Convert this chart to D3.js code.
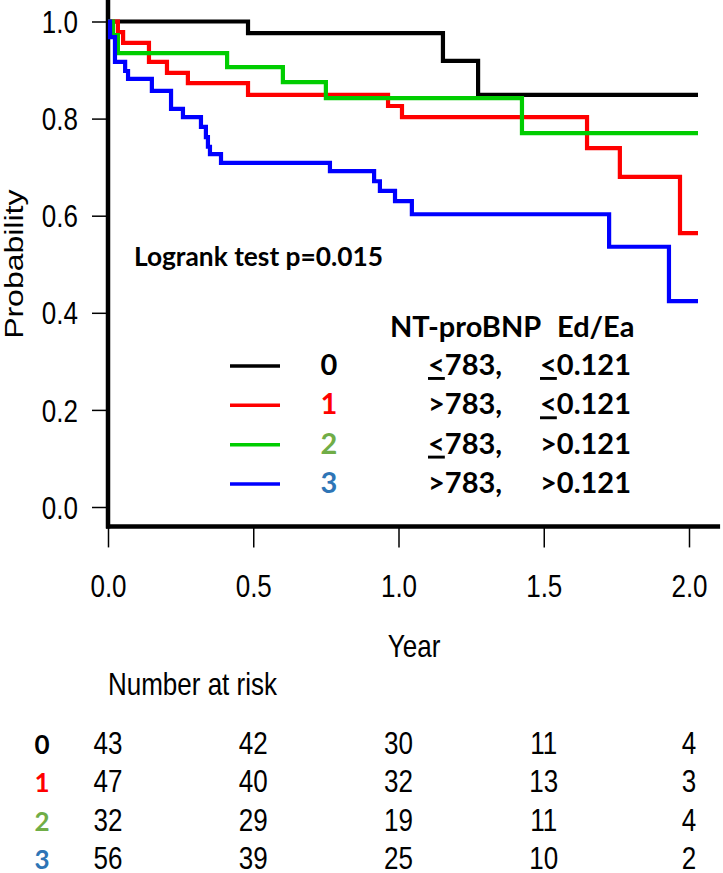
<!DOCTYPE html>
<html>
<head>
<meta charset="utf-8">
<style>
  body { margin: 0; background: #fff; }
  svg { display: block; }
</style>
</head>
<body>
<svg width="723" height="873"></svg>
<script src="https://d3js.org/d3.v7.min.js"></script>
<script>

    // Kaplan-Meier curves for 4 groups, with legend and number-at-risk table

    var groups = ["0", "1", "2", "3"];
    var lineColors = ["#000000", "#ff0000", "#00cd00", "#0000ff"];
    var labelColors = ["#000000", "#ff0000", "#70ad47", "#2e75b6"];

    // step times (years) and survival after each step
    var times0 = [0, 0.482, 1.153, 1.274];
    var surv0 = [1, 0.976, 0.919, 0.849];
    var times1 = [0, 0.034, 0.052, 0.141, 0.203, 0.275, 0.482, 0.964, 1.012, 1.649, 1.762, 1.969];
    var surv1 = [1, 0.978, 0.956, 0.917, 0.894, 0.873, 0.849, 0.826, 0.803, 0.739, 0.680, 0.564];
    var times2 = [0, 0.017, 0.034, 0.410, 0.602, 0.750, 1.425];
    var surv2 = [1, 0.972, 0.935, 0.906, 0.875, 0.842, 0.770];
    var times3 = [0, 0.007, 0.024, 0.059, 0.069, 0.151, 0.217, 0.258, 0.320, 0.337, 0.344, 0.351, 0.389, 0.764, 0.916, 0.936, 0.988, 1.046, 1.725, 1.931];
    var surv3 = [1, 0.968, 0.917, 0.898, 0.882, 0.857, 0.820, 0.803, 0.783, 0.762, 0.742, 0.727, 0.709, 0.692, 0.671, 0.651, 0.630, 0.603, 0.536, 0.424];
    var endTime = 2.031;

    var xTicks = [0, 0.5, 1, 1.5, 2];
    var yTicks = [0, 0.2, 0.4, 0.6, 0.8, 1];

    // legend
    var ntHeader = "NT-proBNP";
    var edHeader = "Ed/Ea";
    var ntLabels = ["≤783,", ">783,", "≤783,", ">783,"];
    var edLabels = ["≤0.121", "≤0.121", ">0.121", ">0.121"];
    var pText = "Logrank test p=0.015";

    // number at risk
    var riskTimes = [0, 0.5, 1, 1.5, 2];
    var risk0 = [43, 42, 30, 11, 4];
    var risk1 = [47, 40, 32, 13, 3];
    var risk2 = [32, 29, 19, 11, 4];
    var risk3 = [56, 39, 25, 10, 2];

    var allTimes = [times0, times1, times2, times3];
    var allSurv = [surv0, surv1, surv2, surv3];
    var allRisk = [risk0, risk1, risk2, risk3];

    var arial = "'Liberation Sans', Arial, sans-serif";
    var calibri = "Lato, 'Open Sans', sans-serif";
    var stretch = 1.23;   // the picture is taller than it is wide

    var svg = d3.select("svg");

    var x = d3.scaleLinear().domain([0, 2]).range([108, 689]);
    var y = d3.scaleLinear().domain([0, 1]).range([507, 21.5]);

    // plot frame (left and bottom only)
    var boxBottom = y(-0.04), boxTop = y(1.04), boxRight = x(2.107);

    // y axis
    var yAxis = svg.append("g")
        .attr("transform", "translate(" + x(0) + ",0)")
        .call(d3.axisLeft(y).tickValues(yTicks).tickSize(16).tickPadding(14).tickFormat(d3.format(".1f")));
    yAxis.select(".domain").remove();
    yAxis.selectAll("line").attr("stroke", "#000").attr("stroke-width", 1.5);
    yAxis.selectAll("text")
        .attr("font-family", arial).attr("font-size", 26).attr("fill", "#000")
        .attr("dy", "0.35em")
        .attr("transform", "scale(1," + stretch + ")");

    // x axis
    var xAxis = svg.append("g")
        .attr("transform", "translate(0," + boxBottom + ")")
        .call(d3.axisBottom(x).tickValues(xTicks).tickSize(21).tickFormat(d3.format(".1f")));
    xAxis.select(".domain").remove();
    xAxis.selectAll("line").attr("stroke", "#000").attr("stroke-width", 1.5);
    xAxis.selectAll("text")
        .attr("font-family", arial).attr("font-size", 26).attr("fill", "#000")
        .attr("y", 71 / stretch).attr("dy", 0)
        .attr("transform", "scale(1," + stretch + ")");

    svg.append("line")
        .attr("x1", x(0)).attr("x2", x(0)).attr("y1", 0).attr("y2", boxBottom + 2)
        .attr("stroke", "#000").attr("stroke-width", 4.5);
    svg.append("line")
        .attr("x1", x(0) - 2).attr("x2", boxRight).attr("y1", boxBottom).attr("y2", boxBottom)
        .attr("stroke", "#000").attr("stroke-width", 4.5);

    // axis titles
    svg.append("text")
        .attr("transform", "translate(23," + ((boxTop + boxBottom) / 2) + ") rotate(-90) scale(" + stretch + ",1)")
        .attr("text-anchor", "middle")
        .attr("font-family", arial).attr("font-size", 26)
        .text("Probability");

    svg.append("text")
        .attr("transform", "translate(" + ((x(0) + boxRight) / 2) + ",657) scale(1," + stretch + ")")
        .attr("text-anchor", "middle")
        .attr("font-family", arial).attr("font-size", 26)
        .text("Year");

    // survival curves
    var stepLine = d3.line()
        .x(function (d) { return x(d[0]); })
        .y(function (d) { return y(d[1]); })
        .curve(d3.curveStepAfter);

    groups.forEach(function (g, i) {
        var pts = allTimes[i].map(function (t, j) { return [t, allSurv[i][j]]; });
        pts.push([endTime, allSurv[i][allSurv[i].length - 1]]);
        svg.append("path")
            .datum(pts)
            .attr("d", stepLine)
            .attr("fill", "none")
            .attr("stroke", lineColors[i])
            .attr("stroke-width", 4.2);
    });

    // logrank text
    svg.append("text")
        .attr("x", 134).attr("y", 266)
        .attr("font-family", calibri).attr("font-weight", 700).attr("font-size", 26.3)
        .text(pText);

    // legend
    var legendY = d3.scaleLinear().domain([0, 3]).range([375, 493]);

    svg.append("text")
        .attr("x", 390).attr("y", 337)
        .attr("font-family", calibri).attr("font-weight", 700).attr("font-size", 29)
        .text(ntHeader);
    svg.append("text")
        .attr("x", 557).attr("y", 337)
        .attr("font-family", calibri).attr("font-weight", 700).attr("font-size", 29)
        .text(edHeader);

    // "≤" is written as an underlined "<"
    var writeLimit = function (sel, s) {
        if (s.charAt(0) === "≤") {
            sel.append("tspan").style("text-decoration", "underline").text("<");
            sel.append("tspan").text(s.substring(1));
        } else {
            sel.text(s);
        }
    };

    groups.forEach(function (g, i) {
        var by = legendY(i);
        svg.append("line")
            .attr("x1", 230).attr("x2", 280).attr("y1", by - 9).attr("y2", by - 9)
            .attr("stroke", lineColors[i]).attr("stroke-width", 3.5);
        svg.append("text")
            .attr("x", 329).attr("y", by).attr("text-anchor", "middle")
            .attr("font-family", calibri).attr("font-weight", 700).attr("font-size", 29)
            .attr("fill", labelColors[i])
            .text(g);
        var t1 = svg.append("text")
            .attr("x", 428).attr("y", by)
            .attr("font-family", calibri).attr("font-weight", 700).attr("font-size", 29);
        writeLimit(t1, ntLabels[i]);
        var t2 = svg.append("text")
            .attr("x", 540).attr("y", by)
            .attr("font-family", calibri).attr("font-weight", 700).attr("font-size", 29);
        writeLimit(t2, edLabels[i]);
    });

    // number at risk table
    svg.append("text")
        .attr("transform", "translate(108,695) scale(1," + stretch + ")")
        .attr("font-family", arial).attr("font-size", 26)
        .text("Number at risk");

    var rowY = d3.scaleLinear().domain([0, 3]).range([754, 869]);

    groups.forEach(function (g, i) {
        svg.append("text")
            .attr("x", 42).attr("y", rowY(i)).attr("text-anchor", "middle")
            .attr("font-family", calibri).attr("font-weight", 700).attr("font-size", 26)
            .attr("fill", labelColors[i])
            .text(g);

        svg.selectAll(null)
            .data(allRisk[i])
            .enter().append("text")
            .attr("transform", function (d, j) {
                return "translate(" + x(riskTimes[j]) + "," + rowY(i) + ") scale(1," + stretch + ")";
            })
            .attr("text-anchor", "middle")
            .attr("font-family", arial).attr("font-size", 26)
            .text(function (d) { return d; });
    });

</script>
</body>
</html>
